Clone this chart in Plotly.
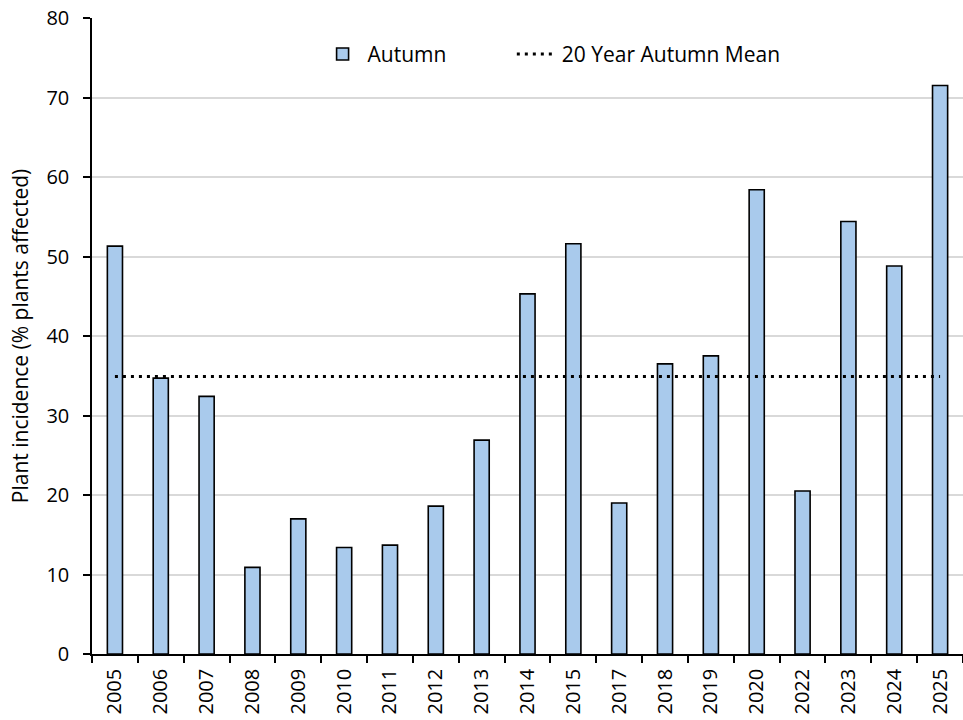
import plotly.graph_objects as go

years = ["2005", "2006", "2007", "2008", "2009", "2010", "2011", "2012", "2013",
         "2014", "2015", "2017", "2018", "2019", "2020", "2022", "2023", "2024", "2025"]
autumn = [51.3, 34.7, 32.4, 10.9, 17.0, 13.4, 13.7, 18.6, 26.9,
          45.3, 51.6, 19.0, 36.5, 37.5, 58.4, 20.5, 54.4, 48.8, 71.5]
mean_20yr = [34.9] * len(years)
y_ticks = [0, 10, 20, 30, 40, 50, 60, 70, 80]

FONT = "'Open Sans', sans-serif"

fig = go.Figure()
fig.add_trace(go.Bar(
    x=years, y=autumn, name="Autumn", legend="legend",
    marker=dict(color="#A9CAEC", line=dict(color="#000000", width=1.6)),
))
fig.add_trace(go.Scatter(
    x=years, y=mean_20yr, name="20 Year Autumn Mean", mode="lines", legend="legend2",
    line=dict(color="#000000", width=3, dash="3px,5px"),
))

legend_common = dict(orientation="h", yanchor="top", y=0.975, xanchor="left",
                     font=dict(size=21), bgcolor="rgba(0,0,0,0)", itemwidth=40)

fig.update_layout(
    width=963, height=720,
    margin=dict(l=92, r=0, t=18, b=66, autoexpand=False),
    paper_bgcolor="white", plot_bgcolor="white",
    font=dict(family=FONT, size=20, color="#000000"),
    bargap=0.67,
    showlegend=True,
    legend=dict(x=0.259, **legend_common),
    legend2=dict(x=0.482, **legend_common),
)
fig.update_xaxes(
    type="category", tickangle=-90, showline=True, linecolor="#000000", linewidth=1.5,
    ticks="outside", tickson="boundaries", ticklen=7, tickcolor="#000000", tickwidth=1.5,
    showgrid=False, tickfont=dict(size=20), automargin=False, ticklabeloverflow="allow",
    ticklabelstandoff=5,
)
fig.update_yaxes(
    range=[0, 80], tickvals=y_ticks, showline=True, linecolor="#000000", linewidth=1.5,
    ticks="outside", ticklen=7, tickcolor="#000000", tickwidth=1.5,
    showgrid=True, gridcolor="#D9D9D9", gridwidth=1.5, zeroline=False,
    tickfont=dict(size=20), ticklabelstandoff=10, automargin=False, ticklabeloverflow="allow",
    title=dict(text="Plant incidence (% plants affected)", font=dict(size=21), standoff=12),
)

fig.write_html("out.html", post_script="document.body.style.margin='0';",
               config={"displayModeBar": False})
